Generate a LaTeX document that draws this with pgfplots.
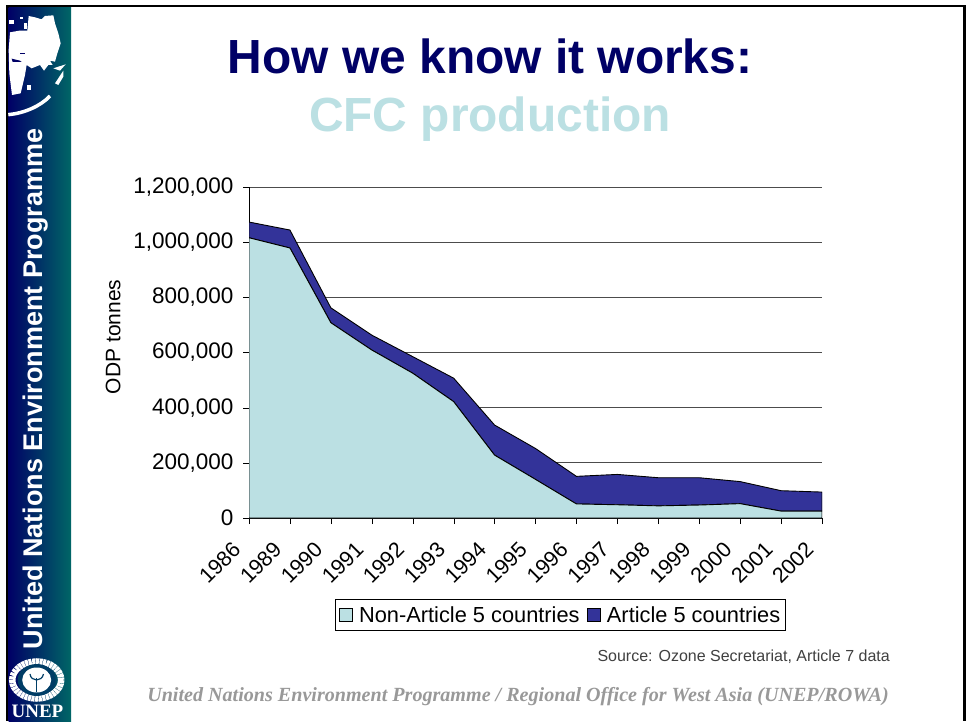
\documentclass[border=0pt]{standalone}
\usepackage{fontspec}
\setmainfont{Liberation Sans}
\newfontfamily\serifb{Liberation Serif}
\usepackage{pgfplots}
\pgfplotsset{compat=1.18}
\definecolor{lightb}{HTML}{BBE0E3}
\definecolor{darkb}{HTML}{333399}
\definecolor{navy}{HTML}{000066}
\definecolor{teal2}{HTML}{006666}
\begin{document}
\begin{tikzpicture}[x=1pt,y=1pt]
\path[fill=white] (0,0) rectangle (966,721);
\begin{scope}[shift={(0,721)},yscale=-1]
  \fill[black] (6,5) rectangle (966,7.5);
  \fill[black] (6,5) rectangle (8.5,721);
  \fill[black] (963,5) rectangle (966,721);
  \shade[left color=navy,right color=teal2] (8.5,7.5) rectangle (71,721);
  % map
  \begin{scope}[scale=1/3]
    \fill[white] (30,97) -- (58,92) -- (72,92) -- (82,92) -- (86,48) -- (105,52) -- (125,58) -- (135,48) -- (160,46) -- (165,70) -- (175,100) -- (182,130) -- (172,160) -- (165,185) -- (150,182) -- (158,195) -- (145,195) -- (132,212) -- (120,195) -- (95,205) -- (80,195) -- (75,225) -- (62,280) -- (36,285) -- (28,220) -- (26,150) -- cycle;
    \fill[white] (160,205) -- (197,193) -- (180,212) -- cycle;
    \fill[white] (165,250) -- (190,212) -- (190,230) -- (175,255) -- cycle;
    \fill[white] (27,60) rectangle (42,72);
    \fill[white] (60,50) rectangle (70,56);
    \fill[white] (72,70) rectangle (82,88);
    \fill[white] (82,255) rectangle (94,270);
    \draw[white,line width=3.5pt] (25,344) .. controls (70,340) and (120,320) .. (150,288);
    \fill[navy] (35,176) -- (60,182) -- (65,186) -- (38,186) -- cycle;
    \fill[navy] (60,158) rectangle (75,163);
  \end{scope}
  % logo
  \draw[white,line width=6.5pt,dash pattern=on 3pt off 0.6pt] (36.7,680) ellipse (24.5 and 18.5);
  \fill[teal2!60!navy] (36.7,680) ellipse (19 and 16);
  \fill[white] (36.7,680) ellipse (14.5 and 12.5);
  \draw[teal2!60!navy,line width=1.2pt] (30,674) .. controls (31,682) and (42,682) .. (43.5,674);
  \draw[teal2!60!navy,line width=1.2pt] (36.7,678) -- (36.7,692);
\end{scope}
\node[white,font=\serifb\bfseries\fontsize{19}{19}\selectfont,anchor=center,inner sep=0pt] at (37.5,10) {UNEP};
\node[white,font=\bfseries\fontsize{27}{27}\selectfont,rotate=90,anchor=center,inner sep=0pt] at (36,332) {United Nations Environment Programme};
\node[navy,font=\bfseries\fontsize{47.9}{47.9}\selectfont,anchor=base,inner sep=0pt] at (490,647) {How we know it works:};
\node[lightb,font=\bfseries\fontsize{47.9}{47.9}\selectfont,anchor=base,inner sep=0pt] at (490,589.5) {CFC production};
\node[black!75,font=\fontsize{16}{16}\selectfont,anchor=base east,inner sep=0pt] at (890,60) {Source: Ozone Secretariat, Article 7 data};
\node[black!40,font=\serifb\bfseries\itshape\fontsize{20.1}{20.1}\selectfont,anchor=base,inner sep=0pt] at (518,20) {United Nations Environment Programme / Regional Office for West Asia (UNEP/ROWA)};
\begin{axis}[
  at={(249pt,203pt)},anchor=south west,
  width=573pt,height=331pt,scale only axis,
  xmin=0,xmax=14,ymin=0,ymax=1200000,
  stack plots=y,
  axis lines=left,
  axis line style={-,black},
  xtick={0,...,14},
  xticklabels={1986,1989,1990,1991,1992,1993,1994,1995,1996,1997,1998,1999,2000,2001,2002},
  ytick={0,200000,400000,600000,800000,1000000,1200000},
  yticklabel style={/pgf/number format/.cd,assume math mode=true,fixed,1000 sep={,},/tikz/.cd,xshift=-6pt},
  scaled y ticks=false,
  tick label style={font=\fontsize{22.5}{22.5}\selectfont},
  xticklabel style={font=\fontsize{21.5}{21.5}\selectfont,rotate=45,anchor=north east,inner sep=2pt,xshift=-22pt,yshift=3pt},
  tick align=outside,
  major tick length=6pt,
  tick style={black},
  ymajorgrids,
  major grid style={black!70,line width=0.8pt},
  ylabel={ODP tonnes},
  ylabel style={font=\fontsize{21}{21}\selectfont,at={(axis description cs:-0.237,0.547)},anchor=center},
  legend style={at={(axis description cs:0.5436,-0.2447)},anchor=north,draw=black,line width=0.9pt,legend columns=2,font=\fontsize{21.8}{21.8}\selectfont,inner xsep=3pt,inner ysep=5pt,/tikz/every even column/.append style={column sep=5pt}},
  legend cell align=left,
  legend image code/.code={\fill[#1,draw=black,line width=0.7pt] (0,-6.5pt) rectangle (13pt,6.5pt);\path[draw=none,fill=none] (0,0) -- (18pt,0);},
]
\addplot[fill=lightb,draw=black,line width=0.9pt] coordinates {(0,1016000)(1,979000)(2,708000)(3,609000)(4,525000)(5,422000)(6,228000)(7,140000)(8,51000)(9,48000)(10,44000)(11,47000)(12,52000)(13,25000)(14,25000)} \closedcycle;
\addlegendentry{Non-Article 5 countries}
\addplot[fill=darkb,draw=black,line width=0.9pt] coordinates {(0,57000)(1,65000)(2,54000)(3,54000)(4,60000)(5,85000)(6,109000)(7,112000)(8,100000)(9,110000)(10,102000)(11,99000)(12,80000)(13,74000)(14,69000)} \closedcycle;
\addlegendentry{Article 5 countries}
\end{axis}
\end{tikzpicture}
\end{document}
